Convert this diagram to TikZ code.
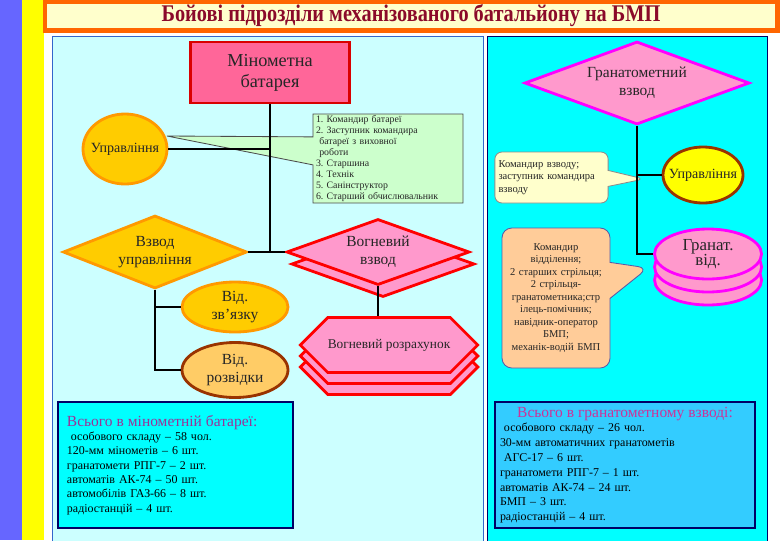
\documentclass[tikz,border=0pt]{standalone}
\usepackage{fontspec}
\setmainfont{Liberation Serif}
\newfontfamily\titlefont[FakeStretch=0.85]{Liberation Serif}
\usetikzlibrary{positioning, shapes.geometric, shapes.callouts, shapes.symbols, shadows}
\definecolor{stripblue}{HTML}{6666FF}
\definecolor{stripyellow}{HTML}{FFFF00}
\definecolor{titlecream}{HTML}{FFFFCC}
\definecolor{titleorange}{HTML}{FF6600}
\definecolor{titlered}{HTML}{8B0A2A}
\definecolor{panelleft}{HTML}{CCFFFF}
\definecolor{panelright}{HTML}{00FFFF}
\definecolor{panelblue}{HTML}{3366CC}
\definecolor{navy}{HTML}{000066}
\definecolor{batred}{HTML}{FF6699}
\definecolor{ctrlorange}{HTML}{FFCC00}
\definecolor{ctrledge}{HTML}{FF9900}
\definecolor{scoutfill}{HTML}{FFCC66}
\definecolor{brownedge}{HTML}{993300}
\definecolor{firepink}{HTML}{FF99CC}
\definecolor{grenedge}{HTML}{FF00FF}
\definecolor{notegreen}{HTML}{CCFFCC}
\definecolor{noteyellow}{HTML}{FFFFCC}
\definecolor{notepeach}{HTML}{FFCC99}
\definecolor{sumblue}{HTML}{33CCFF}
\definecolor{sumpurple}{HTML}{993399}
\definecolor{summagenta}{HTML}{CC3399}
\frenchspacing

\begin{document}
\begin{tikzpicture}[
    x = 0.25mm, y = -0.25mm,
    every node/.style = {align = center, inner sep = 0pt, text = black!85},
    link/.style = {line width = 2pt, draw = black},
    unit/.style = {line width = 2pt, inner sep = 0pt},
    ctrl/.style = {unit, ellipse, fill = ctrlorange, draw = ctrledge},
    firediamond/.style = {unit, diamond, fill = firepink, draw = red},
    note/.style = {rectangle callout, line width = 0.6pt, inner sep = 0pt},
    summary/.style = {rectangle, draw = navy, line width = 0.8pt, align = left, text = black}
]

\useasboundingbox (0,0) rectangle (780,540);
\fill[white] (0,0) rectangle (780,540);

% side strips
\fill[stripblue] (0,0) rectangle (22,540);
\fill[stripyellow] (22,0) rectangle (44,540);

% title
\draw[fill = titlecream, draw = titleorange, line width = 3pt] (45,2) rectangle (777.5,30.5);
\node[font = \titlefont\bfseries\fontsize{17}{19}\selectfont, text = titlered] (title) at (411,16) {Бойові підрозділи механізованого батальйону на БМП};

% panels
\draw[fill = panelleft, draw = panelblue, line width = 0.6pt] (52,36) rectangle (483,545);
\draw[fill = panelright, draw = navy, line width = 0.6pt] (487,36) rectangle (767,545);

% mortar battery
\node[unit, rectangle, fill = batred, draw = red!85!black, minimum width = 39.75mm, minimum height = 15.25mm, font = \fontsize{13}{15}\selectfont] (minbat) at (270,72.5) {Мінометна\\батарея};
\node[ctrl, minimum width = 21mm, minimum height = 17.5mm, inner xsep = -6pt, font = \fontsize{10}{12}\selectfont] (upr) at (125,149) {Управління};

\coordinate (gtip) at (167,136);
\node[note, fill = notegreen, draw = black!70, callout absolute pointer = {(gtip)}, callout pointer width = 7mm, minimum width = 37.5mm, minimum height = 22.25mm, text width = 36mm, align = left, font = \fontsize{7}{7.9}\selectfont] (sklad) at (388,158.5) {1. Командир батареї\\2. Заступник командира\\\ батареї з виховної\\\ роботи\\3. Старшина\\4. Технік\\5. Санінструктор\\6. Старший обчислювальник};

\node[ctrl, diamond, shape aspect = 2.5, minimum width = 46mm, minimum height = 18.25mm, font = \fontsize{11}{12.5}\selectfont] (vzupr) at (155,252) {Взвод\\управління};
\node[firediamond, shape aspect = 2.8, minimum width = 45.75mm, minimum height = 16.5mm, copy shadow = {shadow xshift = 1.25mm, shadow yshift = -3mm, fill = firepink, draw = red, line width = 2pt}, font = \fontsize{11}{13}\selectfont] (vogvz) at (378,252) {Вогневий\\взвод};

\node[ctrl, minimum width = 26.5mm, minimum height = 12.5mm, font = \fontsize{11}{13}\selectfont] (vidzv) at (235,307) {Від.\\зв’язку};
\node[unit, ellipse, fill = scoutfill, draw = brownedge, minimum width = 26.5mm, minimum height = 13.75mm, font = \fontsize{11}{13}\selectfont] (vidrz) at (235,370) {Від.\\розвідки};

\node[unit, signal, signal to = west and east, fill = firepink, draw = red, minimum width = 43mm, minimum height = 13.75mm,
    copy shadow = {shadow xshift = 0.01mm, shadow yshift = -5.5mm, fill = firepink, draw = red, line width = 2pt},
    copy shadow = {shadow xshift = 0.01mm, shadow yshift = -2.75mm, fill = firepink, draw = red, line width = 2pt},
    font = \fontsize{9.5}{11}\selectfont] (vogroz) at (389,345) {Вогневий розрахунок};

\node[summary, fill = panelright, minimum width = 58.75mm, minimum height = 31.5mm, text width = 54.25mm, inner xsep = 2.25mm, font = \fontsize{8.5}{10.2}\selectfont] (sumbat) at (175.5,465)
    {{\color{sumpurple}\fontsize{11}{13}\selectfont Всього в мінометній батареї:}\\\ особового складу – 58 чол.\\120-мм мінометів – 6 шт.\\гранатомети РПГ-7 – 2 шт.\\автоматів АК-74 – 50 шт.\\автомобілів ГАЗ-66 – 8 шт.\\радіостанцій – 4 шт.};

% grenade platoon
\node[unit, diamond, fill = firepink, draw = grenedge, shape aspect = 2.7, minimum width = 56.25mm, minimum height = 20.75mm, font = \fontsize{11}{13}\selectfont] (gvz) at (637,83) {Гранатометний\\взвод};
\node[unit, ellipse, fill = stripyellow, draw = brownedge, minimum width = 20mm, minimum height = 14mm, inner xsep = -6pt, font = \fontsize{10}{12}\selectfont] (upr2) at (703,175) {Управління};

\coordinate (ktip) at (644,179);
\node[note, fill = noteyellow, draw = black!45, rounded corners = 5pt, callout absolute pointer = {(ktip)}, callout pointer width = 4mm, minimum width = 28.25mm, minimum height = 12.75mm, text width = 26.5mm, inner xsep = 0.9mm, align = left, font = \fontsize{7.5}{8.9}\selectfont] (komvz) at (551.5,177.5) {Командир взводу;\\заступник командира\\взводу};

\node[unit, ellipse, fill = firepink, draw = grenedge, minimum width = 26.75mm, minimum height = 12.5mm,
    copy shadow = {shadow xshift = 0.01mm, shadow yshift = -6.5mm, fill = firepink, draw = grenedge, line width = 2pt},
    copy shadow = {shadow xshift = 0.01mm, shadow yshift = -3.25mm, fill = firepink, draw = grenedge, line width = 2pt},
    font = \fontsize{12}{11}\selectfont] (granvid) at (708,254) {Гранат.\\від.};

\coordinate (ptip) at (648,268);
\node[note, fill = notepeach, draw = blue!30!gray, rounded corners = 7pt, callout absolute pointer = {(ptip)}, callout pointer width = 9mm, minimum width = 27mm, minimum height = 35mm, text width = 26mm, font = \fontsize{7.5}{8.9}\selectfont] (vidsklad) at (556,298) {Командир\\відділення;\\2 старших стрільця;\\2 стрільця-\\гранатометника;стр\\ілець-помічник;\\навідник-оператор\\БМП;\\механік-водій БМП};

\node[summary, fill = sumblue, minimum width = 65mm, minimum height = 31.5mm, text width = 62.5mm, inner xsep = 1.25mm, font = \fontsize{8.5}{10.5}\selectfont] (sumgvz) at (625,465)
    {\makebox[\linewidth][c]{\color{summagenta}\fontsize{11}{13}\selectfont Всього в гранатометному взводі:}\\\ особового складу – 26 чол.\\30-мм автоматичних гранатометів\\\ АГС-17 – 6 шт.\\гранатомети РПГ-7 – 1 шт.\\автоматів АК-74 – 24 шт.\\БМП – 3 шт.\\радіостанцій – 4 шт.};

% links
\draw[link] (minbat.south) -- (minbat.south |- vzupr.east);
\draw[link] (upr.east) -- (upr.east -| minbat.south);
\draw[link] (vzupr.east) -- (vogvz.west);
\draw[link] (vzupr.south) |- (vidzv.west);
\draw[link] (vzupr.south) |- (vidrz.west);
\draw[link] (vogvz.south) -- (vogvz.south |- vogroz.north);
\draw[link] (gvz.south) |- (granvid.west);
\draw[link] (gvz.south |- upr2.west) -- (upr2.west);

\end{tikzpicture}
\end{document}
